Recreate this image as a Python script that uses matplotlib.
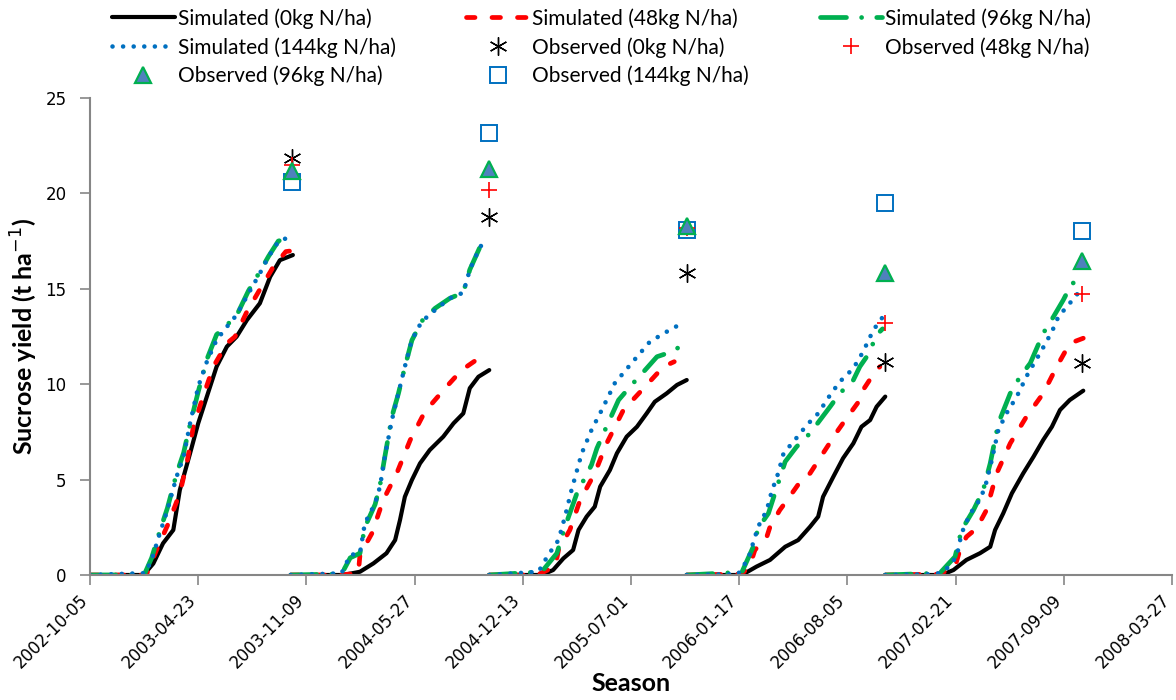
import numpy as np
import matplotlib
matplotlib.use('Agg')
import matplotlib.pyplot as plt
import matplotlib.dates as mdates
import matplotlib.transforms as mtrans

# Day counts from the start date of the x axis, one inner list per season
start_date = '2002-10-05'

sim0_days = [
    [0, 99, 117, 135, 154, 166, 185, 200, 216, 234, 253, 271, 290, 314, 333, 351, 375],
    [371, 468, 499, 524, 548, 564, 573, 582, 595, 610, 628, 653, 672, 690, 702, 718, 738],
    [738, 835, 856, 875, 893, 903, 918, 933, 943, 961, 974, 992, 1011, 1029, 1044, 1066, 1085, 1103],
    [1103, 1205, 1232, 1257, 1285, 1309, 1331, 1346, 1355, 1374, 1392, 1411, 1426, 1442, 1454, 1470],
    [1470, 1574, 1596, 1620, 1645, 1664, 1673, 1688, 1704, 1725, 1744, 1762, 1778, 1793, 1811, 1836],
]
sim0_yield = [
    [0, 0, 0.6, 1.66, 2.36, 4.45, 6.38, 7.95, 9.35, 10.92, 11.97, 12.49, 13.36, 14.24, 15.63, 16.5, 16.77],
    [0, 0, 0.17, 0.61, 1.14, 1.83, 2.88, 4.1, 4.98, 5.85, 6.55, 7.25, 7.95, 8.47, 9.79, 10.39, 10.74],
    [0, 0, 0.26, 0.87, 1.31, 2.36, 3.06, 3.58, 4.63, 5.5, 6.38, 7.25, 7.77, 8.47, 9.08, 9.52, 9.96, 10.22],
    [0, 0, 0.44, 0.79, 1.48, 1.83, 2.53, 3.06, 4.1, 5.15, 6.12, 6.9, 7.77, 8.12, 8.82, 9.35],
    [0, 0, 0.26, 0.79, 1.14, 1.48, 2.36, 3.23, 4.28, 5.33, 6.2, 7.08, 7.77, 8.65, 9.17, 9.66],
]

sim48_days = [
    [0, 104, 123, 145, 166, 179, 191, 209, 228, 253, 268, 290, 317, 339, 362, 375],
    [371, 462, 496, 499, 521, 542, 567, 592, 619, 659, 687, 712, 730],
    [738, 826, 860, 866, 887, 906, 933, 955, 986, 1026, 1060, 1080],
    [1103, 1205, 1220, 1229, 1251, 1257, 1275, 1291, 1315, 1331, 1355, 1383, 1396, 1423, 1429, 1445, 1460],
    [1470, 1571, 1599, 1608, 1620, 1639, 1657, 1676, 1701, 1731, 1762, 1787, 1811, 1836],
]
sim48_yield = [
    [0, 0, 1.31, 2.71, 4.28, 5.85, 7.77, 9.35, 10.92, 12.14, 12.49, 13.8, 15.11, 16.16, 16.95, 17.0],
    [0, 0, 0.1, 1.05, 2.18, 3.93, 5.33, 7.08, 8.56, 9.87, 10.74, 11.23, 11.3],
    [0, 0, 0.44, 1.31, 2.36, 3.93, 5.33, 6.9, 8.65, 9.87, 10.92, 11.18],
    [0, 0.05, 0.52, 1.31, 2.0, 2.53, 3.4, 4.02, 4.98, 5.33, 6.38, 7.6, 8.12, 9.17, 9.7, 10.39, 10.92],
    [0, 0.05, 0.44, 1.31, 2.0, 2.45, 3.4, 5.33, 6.9, 8.3, 9.52, 10.92, 12.14, 12.41],
]

sim96_days = [
    [0, 100, 114, 129, 143, 160, 173, 185, 200, 216, 234, 253, 271, 293, 314, 330, 348, 367, 375],
    [371, 465, 481, 499, 508, 527, 536, 545, 558, 570, 582, 595, 613, 638, 665, 690, 702, 721, 736],
    [738, 835, 863, 878, 900, 927, 937, 952, 977, 1001, 1026, 1048, 1072, 1100],
    [1103, 1205, 1226, 1235, 1254, 1266, 1285, 1306, 1331, 1368, 1386, 1411, 1423, 1442, 1452, 1465],
    [1470, 1571, 1599, 1611, 1633, 1651, 1664, 1679, 1701, 1719, 1738, 1762, 1781, 1799, 1815, 1835],
]
sim96_yield = [
    [0, 0, 0.9, 2.3, 3.5, 5.3, 6.4, 7.9, 9.6, 11.3, 12.6, 13.1, 13.6, 14.9, 15.9, 16.7, 17.5, 17.7, 17.7],
    [0, 0.05, 0.9, 1.14, 2.5, 3.7, 4.7, 6.2, 8.3, 9.5, 10.9, 12.3, 13.3, 13.98, 14.5, 14.8, 16.0, 17.2, 17.5],
    [0, 0.17, 1.14, 2.53, 4.28, 5.77, 6.64, 7.6, 9.17, 9.96, 10.74, 11.44, 11.67, 12.11],
    [0, 0.15, 1.48, 2.45, 3.23, 4.28, 5.94, 6.72, 7.43, 8.82, 9.52, 10.22, 10.92, 11.7, 12.53, 12.9],
    [0, 0.1, 0.96, 2.36, 3.4, 4.45, 5.85, 7.95, 9.52, 10.39, 11.1, 12.67, 13.54, 14.41, 15.29, 15.41],
]

sim144_days = [
    [0, 102, 114, 129, 143, 160, 173, 185, 200, 216, 234, 253, 271, 293, 314, 330, 348, 367, 375],
    [371, 465, 481, 499, 508, 527, 536, 545, 558, 570, 582, 595, 613, 638, 665, 690, 702, 721, 736],
    [738, 829, 847, 866, 878, 890, 909, 927, 946, 970, 1001, 1035, 1066, 1094],
    [1103, 1198, 1217, 1235, 1251, 1260, 1272, 1282, 1303, 1325, 1346, 1368, 1386, 1411, 1429, 1448, 1468],
    [1470, 1565, 1584, 1602, 1611, 1627, 1639, 1654, 1667, 1679, 1694, 1713, 1734, 1756, 1778, 1790, 1811, 1830],
]
sim144_yield = [
    [0, 0.1, 0.79, 2.18, 3.4, 5.15, 6.2, 7.95, 9.87, 11.18, 12.32, 13.01, 13.63, 14.76, 15.81, 16.68, 17.47, 17.7, 17.7],
    [0, 0.09, 1.05, 1.14, 2.71, 3.76, 4.63, 6.2, 8.12, 9.52, 10.92, 12.32, 13.28, 13.89, 14.5, 14.8, 15.99, 17.21, 17.52],
    [0, 0.17, 1.05, 1.83, 3.06, 4.45, 6.38, 7.6, 8.65, 10.05, 11.1, 12.23, 12.75, 13.19],
    [0, 0.05, 0.87, 2.53, 3.4, 4.37, 5.33, 6.38, 7.08, 7.86, 8.47, 9.43, 10.13, 10.83, 11.7, 12.84, 13.63],
    [0, 0.05, 0.35, 0.96, 2.18, 3.23, 3.67, 4.54, 6.03, 7.6, 8.47, 9.35, 10.57, 11.62, 12.75, 13.54, 14.24, 14.9],
]

# Observed sucrose yield at harvest
obs_days = [373, 738, 1103, 1470, 1834]
obs0 = [21.84, 18.74, 15.81, 11.18, 11.1]
obs48 = [21.5, 20.2, 18.2, 13.22, 14.71]
obs96 = [21.15, 21.26, 18.28, 15.81, 16.46]
obs144 = [20.6, 23.15, 18.1, 19.51, 18.03]

tick_labels = ['2002-10-05', '2003-04-23', '2003-11-09', '2004-05-27', '2004-12-13',
               '2005-07-01', '2006-01-17', '2006-08-05', '2007-02-21', '2007-09-09',
               '2008-03-27']

base = mdates.datestr2num(start_date)


def join_seasons(days, values):
    # Put a NaN between seasons so each one is drawn as its own line
    xs, ys = [], []
    for d, v in zip(days, values):
        xs += list(base + np.array(d, dtype=float)) + [np.nan]
        ys += list(v) + [np.nan]
    return np.array(xs), np.array(ys)


fig = plt.figure(figsize=(11.76, 7), dpi=100)
ax = fig.add_axes([90 / 1176, 125 / 700, 1082 / 1176, 477 / 700])

x, y = join_seasons(sim0_days, sim0_yield)
l0, = ax.plot(x, y, color='black', lw=3.0, solid_capstyle='round',
              label='Simulated (0kg N/ha)', zorder=2)
x, y = join_seasons(sim48_days, sim48_yield)
l48, = ax.plot(x, y, color='#FF0000', lw=3.4, linestyle=(0, (1.8, 3.6)),
               dash_capstyle='round', label='Simulated (48kg N/ha)', zorder=2.1)
x, y = join_seasons(sim96_days, sim96_yield)
l96, = ax.plot(x, y, color='#00B050', lw=3.4, linestyle=(0, (5.5, 3.2, 0.01, 3.2)),
               dash_capstyle='round', label='Simulated (96kg N/ha)', zorder=2.2)
x, y = join_seasons(sim144_days, sim144_yield)
l144, = ax.plot(x, y, color='#0070C0', lw=3.3, linestyle=(0, (0.01, 2.3)),
                dash_capstyle='round', label='Simulated (144kg N/ha)', zorder=2.3)

obs_x = base + np.array(obs_days, dtype=float)
o144, = ax.plot(obs_x, obs144, linestyle='none', marker='s', markersize=11,
                markerfacecolor='white', markeredgecolor='#0070C0', markeredgewidth=1.4,
                label='Observed (144kg N/ha)', zorder=3)
o0, = ax.plot(obs_x, obs0, linestyle='none', marker=(6, 2, 0), markersize=13,
              color='black', markeredgewidth=1.0, label='Observed (0kg N/ha)', zorder=4)
o48, = ax.plot(obs_x, obs48, linestyle='none', marker='+', markersize=11,
               color='#FF0000', markeredgewidth=1.2, label='Observed (48kg N/ha)', zorder=4)
o96, = ax.plot(obs_x, obs96, linestyle='none', marker='^', markersize=11,
               markerfacecolor='#4F81BD', markeredgecolor='#00B050', markeredgewidth=1.6,
               label='Observed (96kg N/ha)', zorder=4)

ax.set_xlim(mdates.datestr2num(tick_labels[0]), mdates.datestr2num(tick_labels[-1]))
ax.set_ylim(0, 25)
ax.set_xticks([mdates.datestr2num(t) for t in tick_labels])
ax.set_xticklabels(tick_labels, rotation=45, ha='right', va='center',
                   rotation_mode='anchor', fontsize=12)
ax.set_yticks(range(0, 26, 5))
ax.tick_params(axis='y', labelsize=12, length=7, width=1.2, color='#868686', pad=10)
ax.tick_params(axis='x', length=7, width=1.2, color='#868686', pad=9)

# Nudge the slanted date labels a little left so the last one stays inside
offset = mtrans.ScaledTranslation(-0.05, 0, fig.dpi_scale_trans)
for lbl in ax.get_xticklabels():
    lbl.set_transform(lbl.get_transform() + offset)

for side in ['top', 'right']:
    ax.spines[side].set_visible(False)
for side in ['left', 'bottom']:
    ax.spines[side].set_color('#868686')
    ax.spines[side].set_linewidth(1.5)

ax.set_ylabel('Sucrose yield (t ha$^{-1}$)', fontsize=18, fontweight='bold',
              family='Lato', labelpad=4)
ax.set_xlabel('Season', fontsize=18, fontweight='bold', family='Lato', labelpad=0)

# Column-first order so the legend reads row by row like the original
handles = [l0, l144, o96, l48, o0, o144, l96, o48]
fig.legend(handles, [h.get_label() for h in handles], loc='upper left',
           bbox_to_anchor=(112 / 1176, 1 - 8 / 700), ncol=3, frameon=False,
           prop={'family': 'Lato', 'size': 15}, handlelength=3.0,
           handletextpad=0.15, columnspacing=3.4, labelspacing=0.4,
           borderaxespad=0, borderpad=0)

fig.savefig('out.png', dpi=100)
